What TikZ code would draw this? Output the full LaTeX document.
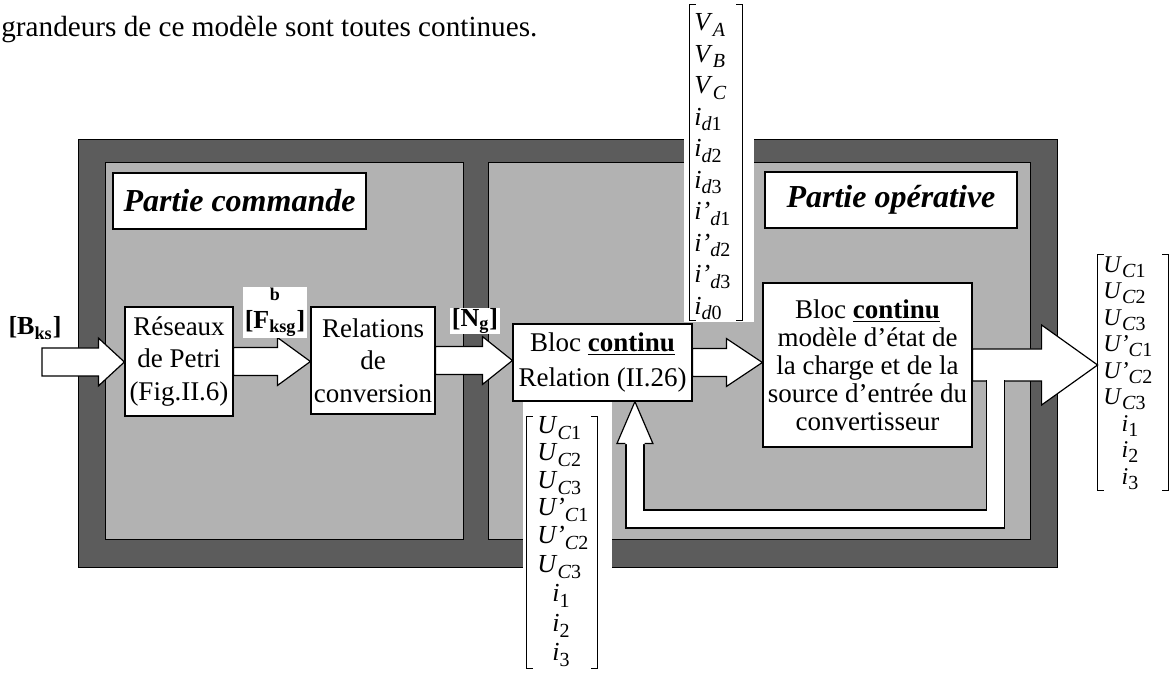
\documentclass[tikz,border=0pt]{standalone}
\usepackage{fontspec}
\setmainfont{Liberation Serif}
\usetikzlibrary{calc}
\definecolor{lightpanel}{gray}{0.70}
\definecolor{darkband}{gray}{0.36}
\newcommand\sbs[1]{\raisebox{-0.45ex}{\fontsize{10}{10}\selectfont #1}}
\newcommand\fatarrow[5]{\draw[fat] let \p1=(#1), \p2=(#2) in
  (\x1,\y1+#3) -- (\x2-#5,\y1+#3) -- (\x2-#5,\y1+#4) -- (\x2,\y1) --
  (\x2-#5,\y1-#4) -- (\x2-#5,\y1-#3) -- (\x1,\y1-#3) -- cycle;}
\begin{document}
\begin{tikzpicture}[x=0.5pt,y=-0.5pt,
  box/.style={draw, fill=white, line width=0.6pt, inner sep=0pt, align=center, font=\fontsize{13.5}{16}\selectfont},
  titlebox/.style={draw, fill=white, line width=1pt, inner sep=0pt, font=\bfseries\itshape\fontsize{16}{18}\selectfont},
  lbl/.style={inner sep=0pt, font=\bfseries\fontsize{13}{15}\selectfont},
  ent/.style={inner sep=0pt, font=\fontsize{13}{15}\selectfont},
  fat/.style={draw, fill=white, line width=0.6pt},
  brk/.style={line width=0.6pt},
  band/.style={draw, line width=0.5pt, fill=darkband},
  panel/.style={draw, line width=0.5pt, fill=lightpanel},
  fbstyle/.style={line width=0.6pt, double=white, double distance=8.4pt}]
\useasboundingbox (0,0) rectangle (1175,674);

% title text
\node[anchor=base west, inner sep=0pt, font=\fontsize{14.6}{17}\selectfont] (title) at (1,37) {grandeurs de ce modèle sont toutes continues.};

% frame
\path[band] (78,140) rectangle (1057,567);
\path[panel] (105,163) rectangle (463,539);
\path[panel] (488,163) rectangle (1030,539);
% white backgrounds of the vectors
\fill[white] (684,0) rectangle (754,322);
\fill[white] (523,401) rectangle (612,674);

% part titles
\node[titlebox, minimum width=126.5pt, minimum height=28pt] (pc) at (239.5,201) {Partie commande};
\node[titlebox, minimum width=126pt, minimum height=28pt] (po) at (891,200) {Partie opérative};

% blocks
\node[box, minimum width=54pt, minimum height=54.5pt, font=\fontsize{13.5}{16.25}\selectfont] (res) at (179,361.5) {Réseaux\\de Petri\\(Fig.II.6)};
\node[box, minimum width=62pt, minimum height=53.5pt, font=\fontsize{13.5}{16.25}\selectfont] (rel) at (373,360.5) {Relations\\de\\conversion};
\node[box, minimum width=89.5pt, minimum height=38.5pt, font=\fontsize{13.5}{17.5}\selectfont] (bc) at (602.5,362.5) {Bloc \underline{\textbf{continu}}\\Relation (II.26)};
\node[box, minimum width=104.5pt, minimum height=82pt, font=\fontsize{13.5}{14}\selectfont] (rb) at (867.5,365) {Bloc \underline{\textbf{continu}}\\modèle d’état de\\la charge et de la\\source d’entrée du\\convertisseur};

% vectors (bracket frames)
\node[minimum width=26pt, minimum height=157.5pt, inner sep=0pt] (tm) at (716,162.5) {};
\node[minimum width=35pt, minimum height=125.5pt, inner sep=0pt] (bm) at (562,542.5) {};
\node[minimum width=35pt, minimum height=117.5pt, inner sep=0pt] (rm) at (1133,372.5) {};
\foreach \m in {tm,bm,rm}{
  \draw[brk] ([xshift=3pt]\m.north west) -- (\m.north west) -- (\m.south west) -- ([xshift=3pt]\m.south west);
  \draw[brk] ([xshift=-3pt]\m.north east) -- (\m.north east) -- (\m.south east) -- ([xshift=-3pt]\m.south east);
}

% arrows
\coordinate (inS) at (42,362);
\fatarrow{inS}{res.west}{7pt}{12pt}{13pt}
\fatarrow{res.east}{rel.west}{7pt}{12pt}{16.5pt}
\fatarrow{rel.east}{bc.west}{7pt}{12pt}{15pt}
\fatarrow{bc.east}{rb.west}{7pt}{12pt}{18pt}
% output arrow
\draw[fat] let \p1=(rb.east), \p2=(rm.west) in
  (\x1,\y1+8pt) -- (\x2-28pt,\y1+8pt) -- (\x2-28pt,\y1+20pt) -- (\x2,\y1) --
  (\x2-28pt,\y1-20pt) -- (\x2-28pt,\y1-8pt) -- (\x1,\y1-8pt) -- cycle;
% feedback
\coordinate (fbA) at ($(rb.east)+(23,15.4)$);
\coordinate (fbtip) at ($(bc.south west)!0.68!(bc.south east)$);
\draw[fbstyle] (fbA) -- ++(0,138.6) -| ($(fbtip)+(0,41)$);
\fill[white] ($(fbtip)+(-9.6,42.6)$) -- ($(fbtip)+(-18,42)$) -- (fbtip) -- ($(fbtip)+(18,42)$) -- ($(fbtip)+(9.6,42.6)$) -- cycle;
\draw[line width=0.6pt] ($(fbtip)+(-9.6,42)$) -- ($(fbtip)+(-18,42)$) -- (fbtip) -- ($(fbtip)+(18,42)$) -- ($(fbtip)+(9.6,42)$);

% labels
\node[lbl] (bks) at (35,328) {[B\textsubscript{ks}]};
\node[lbl, fill=white, align=center, minimum width=32pt, minimum height=25.5pt, font=\bfseries\fontsize{13}{14}\selectfont] (fk) at (275,312.5) {{\fontsize{9}{9}\selectfont b}\\{}[F\textsubscript{ksg}]};
\node[lbl, fill=white, minimum width=25pt, minimum height=13pt] (ng) at (475,321) {[N\textsubscript{g}]};

% top vector entries
\foreach \y/\t [count=\i] in {
  25/{\textit{V}\sbs{\textit{A}}},
  56.5/{\textit{V}\sbs{\textit{B}}},
  88/{\textit{V}\sbs{\textit{C}}},
  119.5/{\textit{i}\sbs{\textit{d}1}},
  151/{\textit{i}\sbs{\textit{d}2}},
  182.5/{\textit{i}\sbs{\textit{d}3}},
  214/{\textit{i'}\sbs{\textit{d}1}},
  245.5/{\textit{i'}\sbs{\textit{d}2}},
  277/{\textit{i'}\sbs{\textit{d}3}},
  308.5/{\textit{i}\sbs{\textit{d}0}}}
  \node[ent, anchor=west] (t\i) at (694,\y) {\t};

% bottom vector entries
\foreach \y/\t [count=\i] in {
  428/{\textit{U}\sbs{\textit{C}1}},
  455/{\textit{U}\sbs{\textit{C}2}},
  483/{\textit{U}\sbs{\textit{C}3}},
  510/{\textit{U'}\sbs{\textit{C}1}},
  538/{\textit{U'}\sbs{\textit{C}2}},
  567/{\textit{U}\sbs{\textit{C}3}}}
  \node[ent, anchor=west] (b\i) at (537,\y) {\t};
\foreach \y/\t [count=\i from 7] in {
  596/{\textit{i}\sbs{1}},
  626/{\textit{i}\sbs{2}},
  655/{\textit{i}\sbs{3}}}
  \node[ent] (b\i) at (561,\y) {\t};

% right vector entries
\foreach \y/\t [count=\i] in {
  267/{\textit{U}\sbs{\textit{C}1}},
  293.5/{\textit{U}\sbs{\textit{C}2}},
  320/{\textit{U}\sbs{\textit{C}3}},
  346.5/{\textit{U'}\sbs{\textit{C}1}},
  373/{\textit{U'}\sbs{\textit{C}2}},
  399.5/{\textit{U}\sbs{\textit{C}3}}}
  \node[ent, anchor=west, font=\fontsize{12}{14}\selectfont] (r\i) at (1103,\y) {\t};
\foreach \y/\t [count=\i from 7] in {
  426/{\textit{i}\sbs{1}},
  452.5/{\textit{i}\sbs{2}},
  479/{\textit{i}\sbs{3}}}
  \node[ent, font=\fontsize{12}{14}\selectfont] (r\i) at (1130,\y) {\t};
\end{tikzpicture}
\end{document}
